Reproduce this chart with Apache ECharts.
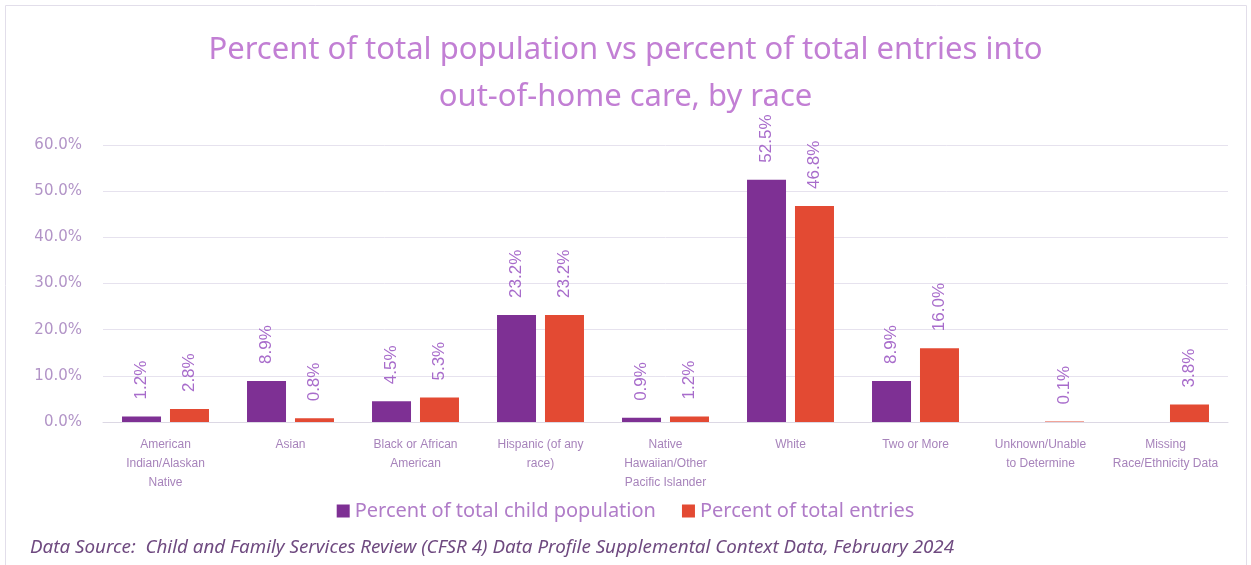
<!DOCTYPE html>
<html>
<head>
<meta charset="utf-8">
<script src="https://cdn.jsdelivr.net/npm/echarts@6/dist/echarts.min.js"></script>
<style>
  html, body { margin: 0; padding: 0; background: #ffffff; }
  #chart { width: 1251px; height: 565px; }
</style>
</head>
<body>
<div id="chart"></div>
<script>
// Race / ethnicity categories (line breaks as shown under the axis)
const categories = [
  'American\nIndian/Alaskan\nNative',
  'Asian',
  'Black or African\nAmerican',
  'Hispanic (of any\nrace)',
  'Native\nHawaiian/Other\nPacific Islander',
  'White',
  'Two or More',
  'Unknown/Unable\nto Determine',
  'Missing\nRace/Ethnicity Data'
];

// Percent of total child population (null = no bar)
const childPopulation = [1.2, 8.9, 4.5, 23.2, 0.9, 52.5, 8.9, null, null];
// Percent of total entries into out-of-home care
const totalEntries = [2.8, 0.8, 5.3, 23.2, 1.2, 46.8, 16.0, 0.1, 3.8];

const yTicks = { min: 0, max: 60, interval: 10 };

const seriesNames = ['Percent of total child population', 'Percent of total entries'];
const titleText = 'Percent of total population vs percent of total entries into\nout-of-home care, by race';
const sourceText = 'Data Source:  Child and Family Services Review (CFSR 4) Data Profile Supplemental Context Data, February 2024';

const PURPLE = '#7e3094';
const RED = '#e34a33';
const TEXT_PURPLE = '#b07cc8';

const chart = echarts.init(document.getElementById('chart'), null, { renderer: 'canvas' });

const barLabel = {
  show: true,
  position: 'top',
  rotate: 90,
  align: 'left',
  verticalAlign: 'middle',
  distance: 17,
  color: '#a86ccb',
  fontFamily: 'Liberation Sans, Arial, sans-serif',
  fontSize: 17,
  formatter: p => (p.value == null ? '' : p.value.toFixed(1) + '%')
};

chart.setOption({
  backgroundColor: '#ffffff',
  animation: false,
  title: [
    {
      text: titleText,
      left: 'center',
      top: 22,
      textStyle: {
        color: '#c27fd4',
        fontFamily: 'Noto Sans, Open Sans, sans-serif',
        fontWeight: 'normal',
        fontSize: 31,
        lineHeight: 47
      }
    },
    {
      text: sourceText,
      left: 25,
      top: 533,
      textStyle: {
        color: '#6f4a80',
        fontFamily: 'Noto Sans, Open Sans, sans-serif',
        fontStyle: 'italic',
        fontWeight: 'normal',
        fontSize: 18.8
      }
    }
  ],
  graphic: [
    {
      type: 'rect',
      shape: { x: 5.5, y: 5.5, width: 1241, height: 560 },
      style: { fill: 'none', stroke: '#e2deea', lineWidth: 1 },
      silent: true,
      z: -1
    }
  ],
  legend: {
    data: seriesNames,
    top: 496,
    left: 'center',
    icon: 'rect',
    itemWidth: 13,
    itemHeight: 13,
    itemGap: 26,
    textStyle: {
      color: TEXT_PURPLE,
      fontFamily: 'Noto Sans, Open Sans, sans-serif',
      fontSize: 20
    }
  },
  grid: {
    left: 103,
    right: 23,
    top: 145,
    bottom: 143,
    containLabel: false
  },
  xAxis: {
    type: 'category',
    data: categories,
    axisTick: { show: false },
    axisLine: { lineStyle: { color: '#dcd8e4', width: 1 } },
    axisLabel: {
      interval: 0,
      margin: 13,
      color: '#a783bb',
      fontFamily: 'Liberation Sans, Arial, sans-serif',
      fontSize: 12,
      lineHeight: 19
    }
  },
  yAxis: {
    type: 'value',
    min: yTicks.min,
    max: yTicks.max,
    interval: yTicks.interval,
    axisLine: { show: false },
    axisTick: { show: false },
    splitLine: { lineStyle: { color: '#e6e2ee', width: 1 } },
    axisLabel: {
      margin: 21,
      color: '#b294c7',
      fontFamily: 'DejaVu Sans, Verdana, sans-serif',
      fontSize: 15,
      formatter: v => v.toFixed(1) + '%'
    }
  },
  series: [
    {
      name: seriesNames[0],
      type: 'bar',
      data: childPopulation,
      itemStyle: { color: PURPLE },
      barWidth: 39,
      barGap: '23%',
      label: barLabel
    },
    {
      name: seriesNames[1],
      type: 'bar',
      data: totalEntries,
      itemStyle: { color: RED },
      barWidth: 39,
      label: barLabel
    }
  ]
});
</script>
</body>
</html>
